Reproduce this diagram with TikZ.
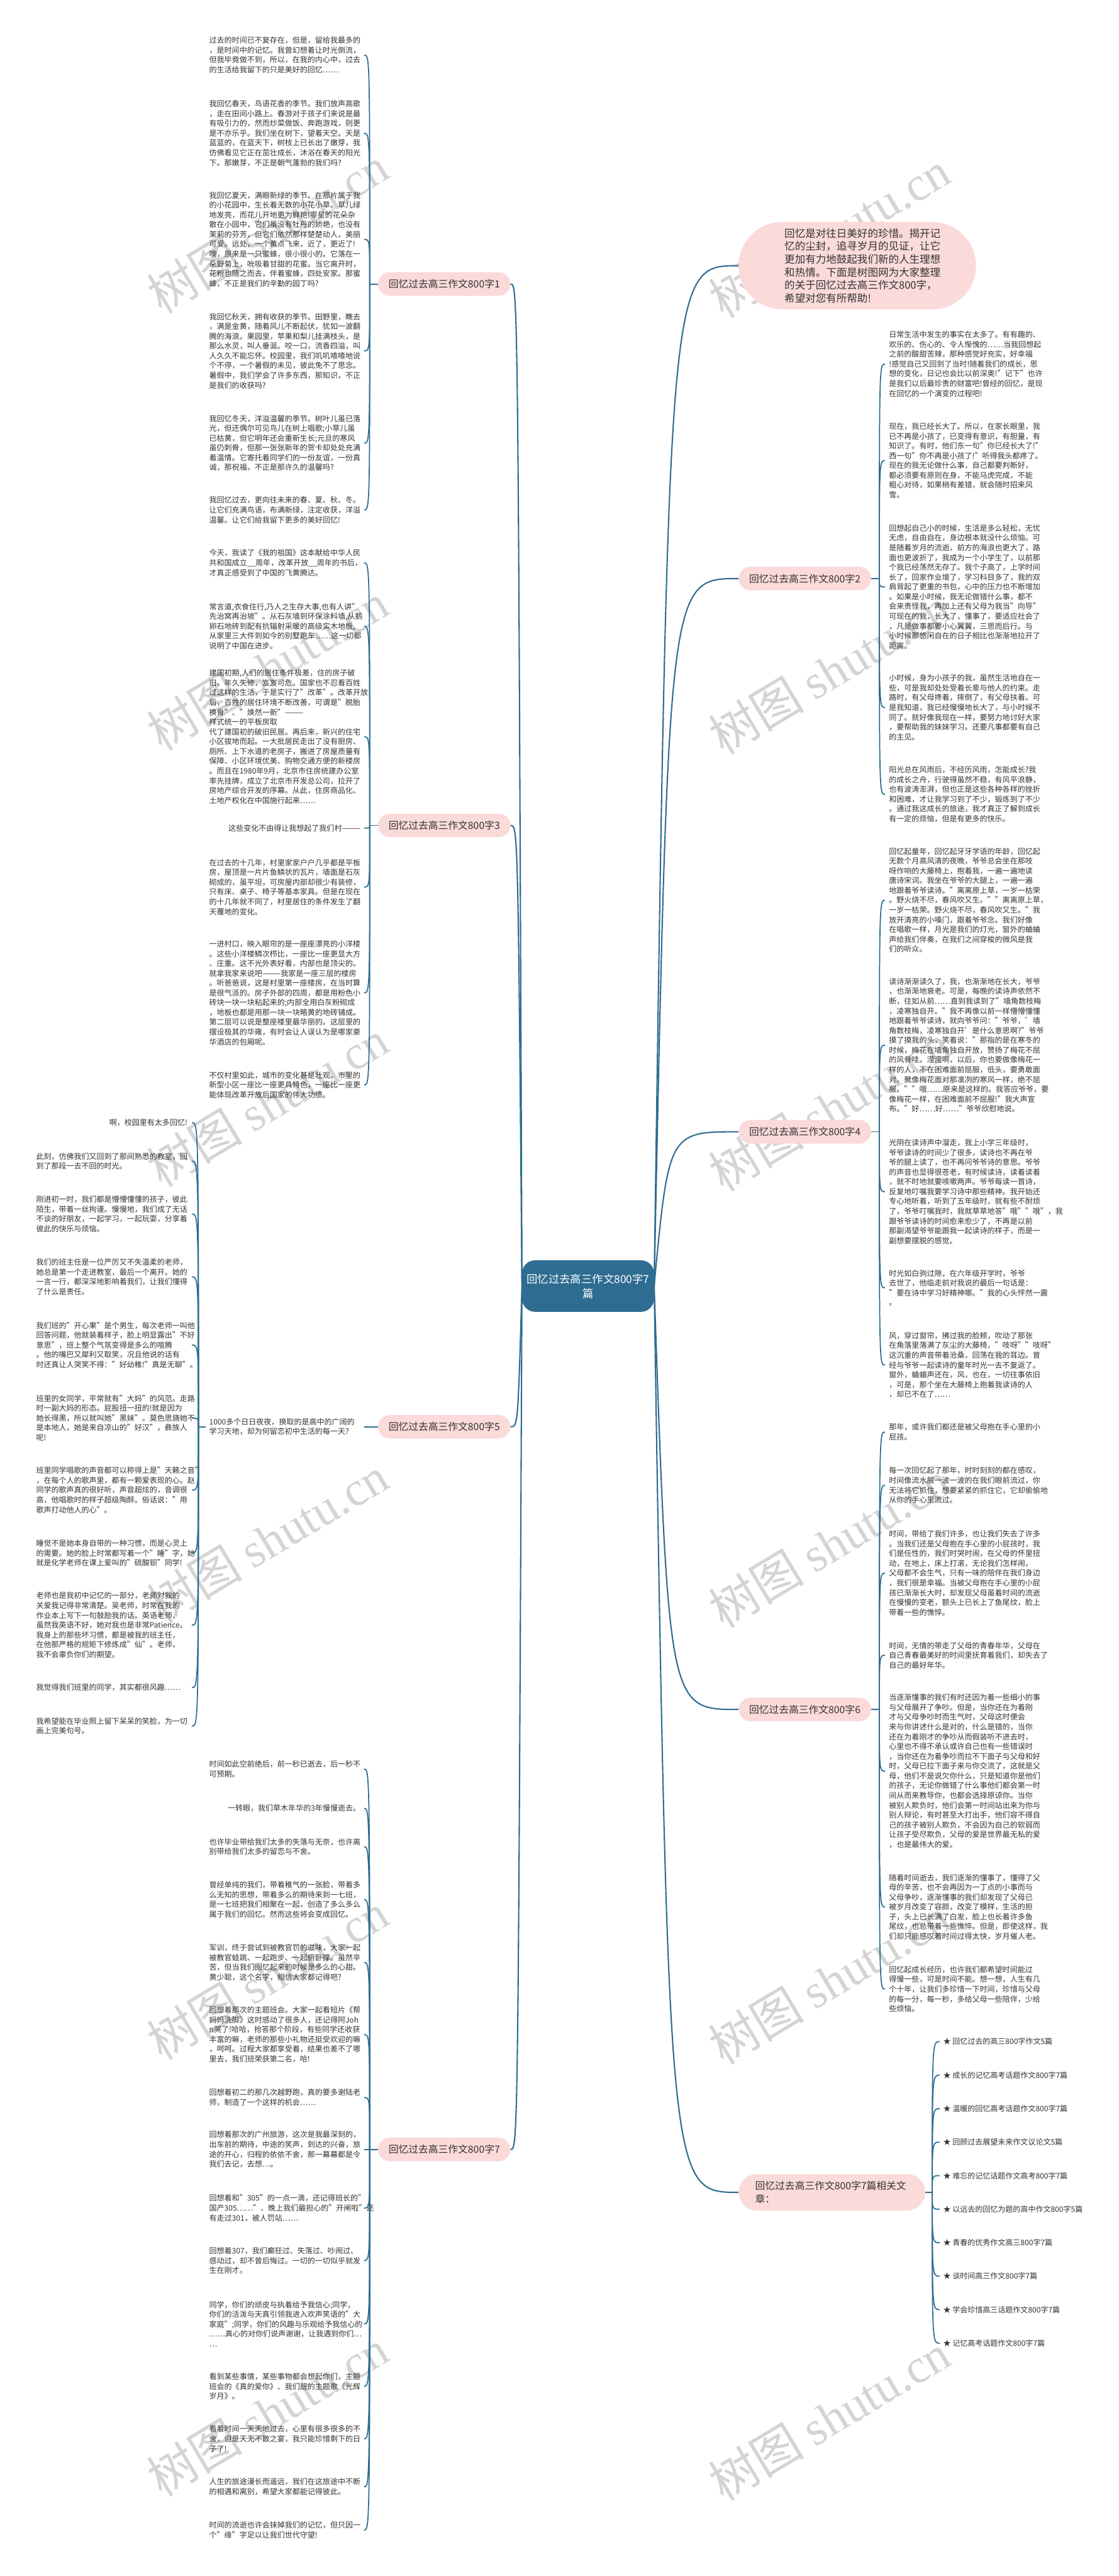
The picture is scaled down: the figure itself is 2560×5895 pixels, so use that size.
\documentclass[tikz,border=0pt]{standalone}
\usepackage{fontspec}
\setmainfont{Noto Sans CJK SC}
\newfontfamily\wmserif{Liberation Serif}
\usetikzlibrary{positioning}
\definecolor{twigblue}{HTML}{2E6C91}
\definecolor{petal}{HTML}{FBDADA}
\definecolor{ink}{HTML}{333333}
\definecolor{wmgrey}{HTML}{D4D4D4}
\newcommand\leaffont{\fontsize{17.3}{22.4}\selectfont}
\newcommand\topicfont{\fontsize{22.7}{30}\selectfont}
\newcommand\introfont{\fontsize{23.8}{29.6}\selectfont}
\newcommand\rootfont{\fontsize{25}{33}\selectfont}

\begin{document}
\begin{tikzpicture}[x=1pt,y=-1pt,
  leafL/.style={anchor=east,text width=346pt,align=left,inner xsep=8pt,inner ysep=0pt,font=\leaffont,text=ink},
  leafR/.style={leafL,anchor=west,inner xsep=9pt},
  topic/.style={fill=petal,rounded corners=27pt,minimum width=303pt,minimum height=54pt,inner sep=0pt,font=\topicfont,text=ink},
  relitem/.style={anchor=west,inner xsep=8pt,inner ysep=0pt,font=\leaffont,text=ink},
  twig/.style={draw=twigblue,line width=2.5pt},
  trunk/.style={draw=twigblue,line width=3pt},
  wmark/.style={rotate=31,anchor=base west,inner sep=0pt,text=wmgrey,font=\fontsize{110}{110}\selectfont}]

\useasboundingbox (0,0) rectangle (2560,5895);
\fill[white] (0,0) rectangle (2560,5895);

% watermark
\foreach \k in {0,...,5}{
  \node[wmark] (wl\k) at (370,{721+999*\k}) {树图 {\wmserif shutu.cn}};
  \node[wmark] (wr\k) at (1655,{731+999*\k}) {树图 {\wmserif shutu.cn}};
}

% root
\node[fill=twigblue,rounded corners=30pt,minimum width=301pt,minimum height=118pt,text width=282pt,align=center,inner xsep=10pt,font=\rootfont,text=white] (centre) at (1345.5,2943) {回忆过去高三作文800字7\\篇};

% topics
\node[topic] (b1) at (1016.5,650) {回忆过去高三作文800字1};
\node[topic] (b3) at (1016.5,1889) {回忆过去高三作文800字3};
\node[topic] (b5) at (1016.5,3265) {回忆过去高三作文800字5};
\node[topic] (b7) at (1016.5,4919) {回忆过去高三作文800字7};
\node[topic,rounded corners=100pt,minimum width=543pt,minimum height=200pt,text width=333pt,align=left,font=\introfont] (intro) at (1961.5,608) {回忆是对往日美好的珍惜。揭开记\\忆的尘封，追寻岁月的见证，让它\\更加有力地鼓起我们新的人生理想\\和热情。下面是树图网为大家整理\\的关于回忆过去高三作文800字，\\希望对您有所帮助!};
\node[topic] (b2) at (1841.5,1324) {回忆过去高三作文800字2};
\node[topic] (b4) at (1841.5,2590) {回忆过去高三作文800字4};
\node[topic] (b6) at (1841.5,3912) {回忆过去高三作文800字6};
\node[topic,minimum width=427pt,minimum height=83pt,rounded corners=41pt,text width=351pt,align=left,inner xsep=38pt] (rel) at (1903.5,5017) {回忆过去高三作文800字7篇相关文\\章：};

% essay 1
\node[leafL] (l1a) at (833,126) {过去的时间已不复存在，但是，留给我最多的\\，是时间中的记忆。我曾幻想着让时光倒流，\\但我毕竟做不到，所以，在我的内心中，过去\\的生活给我留下的只是美好的回忆……};
\node[leafL] (l1b) at (833,305) {我回忆春天，鸟语花香的季节。我们放声高歌\\，走在田间小路上。春游对于孩子们来说是最\\有吸引力的，然而炒菜做饭、奔跑游戏，则更\\是不亦乐乎。我们坐在树下，望着天空。天是\\蓝蓝的，在蓝天下，树枝上已长出了嫩芽，我\\仿佛看见它正在茁壮成长，沐浴在春天的阳光\\下。那嫩芽，不正是朝气蓬勃的我们吗?};
\node[leafL] (l1c) at (833,548) {我回忆夏天，满眼新绿的季节。在那片属于我\\的小花园中，生长着无数的小花小草。草儿绿\\地发亮，而花儿开地更为鲜艳!零星的花朵杂\\散在小园中，它们虽没有牡丹的娇艳，也没有\\茉莉的芬芳，但它们依然那样楚楚动人，美丽\\可爱。远处，一个黄点飞来，近了，更近了!\\噢，原来是一只蜜蜂，很小很小的。它落在一\\朵野菊上，吮吸着甘甜的花蜜。当它离开时，\\花粉也随之而去，伴着蜜蜂，四处安家。那蜜\\蜂，不正是我们的辛勤的园丁吗?};
\node[leafL] (l1d) at (833,803) {我回忆秋天，拥有收获的季节。田野里，瞧去\\，满是金黄，随着风儿不断起伏，犹如一波翻\\腾的海浪。果园里，苹果和梨儿挂满枝头，是\\那么水灵，叫人垂涎。咬一口，流香四溢，叫\\人久久不能忘怀。校园里，我们叽叽喳喳地说\\个不停，一个暑假的未见，彼此免不了思念。\\暑假中，我们学会了许多东西，那知识，不正\\是我们的收获吗?};
\node[leafL] (l1e) at (833,1014) {我回忆冬天，洋溢温馨的季节。树叶儿虽已落\\光，但还偶尔可见鸟儿在树上唱歌;小草儿虽\\已枯黄，但它明年还会重新生长;元旦的寒风\\虽仍刺骨，但那一张张新年的贺卡却处处充满\\着温情。它寄托着同学们的一份友谊，一份真\\诚，那祝福，不正是那许久的温馨吗?};
\node[leafL] (l1f) at (833,1167) {我回忆过去，更向往未来的春、夏、秋、冬。\\让它们充满鸟语，布满新绿，注定收获，洋溢\\温馨。让它们给我留下更多的美好回忆!};

% essay 3
\node[leafL] (l3a) at (833,1288) {今天，我读了《我的祖国》这本献给中华人民\\共和国成立\_\_周年，改革开放\_\_周年的书后，\\才真正感受到了中国的飞黄腾达。};
\node[leafL] (l3b) at (833,1433) {常言道,衣食住行,乃人之生存大事,也有人讲"\\先治窝再治坡"。从石灰墙到环保涂料墙,从鹅\\卵石地砖到配有抗辐射采暖的高级实木地板,\\从家里三大件到如今的别墅跑车……这一切都\\说明了中国在进步。};
\node[leafL] (l3c) at (833,1686) {建国初期,人们的居住条件极差，住的房子破\\旧，年久失修，岌岌可危。国家也不忍看百姓\\过这样的生活，于是实行了"改革"。改革开放\\后，百姓的居住环境不断改善，可谓是"脱胎\\换骨"、"焕然一新"———样式统一的平板房取\\代了建国初的破旧民居。再后来，新兴的住宅\\小区拔地而起。一大批居民走出了没有厨房、\\厕所、上下水道的老房子，搬进了房屋质量有\\保障、小区环境优美、购物交通方便的新楼房\\。而且在1980年9月，北京市住房统建办公室\\率先挂牌，成立了北京市开发总公司，拉开了\\房地产综合开发的序幕。从此，住房商品化、\\土地产权化在中国施行起来……};
\node[leafL,align=right] (l3d) at (833,1895) {这些变化不由得让我想起了我们村———};
\node[leafL] (l3e) at (833,2030) {在过去的十几年，村里家家户户几乎都是平板\\房，屋顶是一片片鱼鳞状的瓦片，墙面是石灰\\砌成的，虽平坦，可房屋内部却很少有装修，\\只有床、桌子、椅子等基本家具。但是在现在\\的十几年就不同了，村里居住的条件发生了翻\\天覆地的变化。};
\node[leafL] (l3f) at (833,2272) {一进村口，映入眼帘的是一座座漂亮的小洋楼\\。这些小洋楼鳞次栉比，一座比一座更显大方\\、庄重。这不光外表好看，内部也是顶尖的。\\就拿我家来说吧———我家是一座三层的楼房\\。听爸爸说，这是村里第一座楼房，在当时算\\是很气派的。房子外部的四周，都是用粉色小\\砖块一块一块粘起来的;内部全用白灰粉砌成\\，地板也都是用那一块一块略黄的地砖铺成。\\第二层可以说是整座楼里最华丽的。这层里的\\摆设极其的华雍，有时会让人误认为是哪家豪\\华酒店的包厢呢。};
\node[leafL] (l3g) at (833,2483) {不仅村里如此，城市的变化甚是壮观。市里的\\新型小区一座比一座更具特色，一座比一座更\\能体现改革开放后国家的伟大功绩。};

% essay 5
\node[leafL] (l5) at (833,3265) {1000多个日日夜夜，换取的是高中的广阔的\\学习天地，却为何留恋初中生活的每一天?};
\node[leafL,inner xsep=10pt,align=right] (s1) at (439,2569) {啊，校园里有太多回忆!};
\node[leafL,inner xsep=10pt] (s2) at (439,2657) {此刻，仿佛我们又回到了那间熟悉的教室，回\\到了那段一去不回的时光。};
\node[leafL,inner xsep=10pt] (s3) at (439,2778) {刚进初一时，我们都是懵懵懂懂的孩子，彼此\\陌生，带着一丝拘谨。慢慢地，我们成了无话\\不谈的好朋友，一起学习，一起玩耍，分享着\\彼此的快乐与烦恼。};
\node[leafL,inner xsep=10pt] (s4) at (439,2922) {我们的班主任是一位严厉又不失温柔的老师，\\她总是第一个走进教室，最后一个离开。她的\\一言一行，都深深地影响着我们，让我们懂得\\了什么是责任。};
\node[leafL,inner xsep=10pt] (s5) at (439,3078) {我们班的"开心果"是个男生，每次老师一叫他\\回答问题，他就装着样子，脸上明显露出"不好\\意思"，班上整个气氛变得是多么的喧腾\\。他的嘴巴又犀利又取笑，况且他说的话有\\时还真让人哭笑不得："好幼稚!"真是无聊"。};
\node[leafL,inner xsep=10pt] (s6) at (439,3245) {班里的女同学，平常就有"大妈"的风范。走路\\时一副大妈的形态。屁股扭一扭的!就是因为\\她长得黑，所以就叫她"黑妹"。莫色思旖她不\\是本地人，她是来自凉山的"好汉"，彝族人\\呢!};
\node[leafL,inner xsep=10pt] (s7) at (439,3410) {班里同学唱歌的声音都可以称得上是"天籁之音"\\，在每个人的歌声里，都有一颗爱表现的心。赵\\同学的歌声真的很好听，声音超炫的，音调很\\高，他唱歌时的样子超级陶醉。俗话说："用\\歌声打动他人的心"。};
\node[leafL,inner xsep=10pt] (s8) at (439,3554) {睡觉不是她本身自带的一种习惯，而是心灵上\\的需要。她的脸上时常都写着一个"睡"字，她\\就是化学老师在课上爱叫的"硫酸钡"同学!};
\node[leafL,inner xsep=10pt] (s9) at (439,3719) {老师也是我初中记忆的一部分，老师对我的\\关爱我记得非常清楚。吴老师，时常在我的\\作业本上写下一句鼓励我的话。英语老师，\\虽然我英语不好，她对我也是非常Patience。\\我身上的那些坏习惯，都是被我的班主任，\\在他那严格的规矩下修炼成"仙"。老师，\\我不会辜负你们的期望。};
\node[leafL,inner xsep=10pt] (s10) at (439,3862) {我觉得我们班里的同学，其实都很风趣……};
\node[leafL,inner xsep=10pt] (s11) at (439,3950) {我希望能在毕业照上留下呆呆的笑脸，为一切\\画上完美句号。};

% essay 7
\node[leafL] (l7a) at (833,4048) {时间如此空前绝后，前一秒已逝去，后一秒不\\可预期。};
\node[leafL,align=right] (l7b) at (833,4138) {一转眼，我们草木年华的3年慢慢逝去。};
\node[leafL] (l7c) at (833,4226) {也许毕业带给我们太多的失落与无奈，也许离\\别带给我们太多的留恋与不舍。};
\node[leafL] (l7d) at (833,4347) {曾经单纯的我们，带着稚气的一张脸，带着多\\么无知的思想，带着多么的期待来到一七班，\\是一七班把我们相聚在一起，创造了多么多么\\属于我们的回忆。然而这些将会变成回忆。};
\node[leafL] (l7e) at (833,4491) {军训，终于尝试到被教官罚的滋味，大家一起\\被教官蛙跳、一起跑步、一起俯卧撑。虽然辛\\苦，但当我们回忆起来的时候是多么的心甜。\\黄少聪，这个名字，相信大家都记得吧?};
\node[leafL] (l7f) at (833,4656) {回想着那次的主题班会。大家一起看短片《帮\\妈妈洗脚》这时感动了很多人，还记得阿Joh\\n哭了!哈哈，抢答那个阶段，有些同学还收获\\丰富的嘛，老师的那些小礼物还挺受欢迎的嘛\\，呵呵。过程大家都享受着，结果也差不了哪\\里去，我们班荣获第二名，哈!};
\node[leafL] (l7g) at (833,4800) {回想着初二的那几次越野跑，真的要多谢陆老\\师，制造了一个这样的机会……};
\node[leafL] (l7h) at (833,4919) {回想着那次的广州旅游，这次是我最深刻的，\\出车前的期待，中途的笑声，到达的兴奋，旅\\途的开心，归程的依依不舍，那一幕幕都是令\\我们去记，去想…。};
\node[leafL] (l7i) at (833,5053) {回想着和"305"的一点一滴，还记得班长的"\\国产305……"、晚上我们最担心的"开闸啦"还\\有走过301，被人罚站……};
\node[leafL] (l7j) at (833,5173) {回想着307，我们癫狂过、失落过、吵闹过、\\感动过，却不曾后悔过。一切的一切似乎就发\\生在刚才。};
\node[leafL] (l7k) at (833,5318) {同学，你们的顽皮与执着给予我信心;同学，\\你们的活泼与天真引领我进入欢声笑语的"大\\家庭";同学，你们的风趣与乐观给予我信心的\\……真心的对你们说声谢谢，让我遇到你们…\\…};
\node[leafL] (l7l) at (833,5461) {看到某些事情，某些事物都会想起你们，主题\\班会的《真的爱你》、我们班的主题歌《光辉\\岁月》。};
\node[leafL] (l7m) at (833,5581) {看着时间一天天地过去，心里有很多很多的不\\舍，但是天无不散之宴，我只能珍惜剩下的日\\子了!};
\node[leafL] (l7n) at (833,5691) {人生的旅途漫长而遥远，我们在这旅途中不断\\的相遇和离别，希望大家都能记得彼此。};
\node[leafL] (l7o) at (833,5790) {时间的流逝也许会抹掉我们的记忆，但只因一\\个"缘"字足以让我们世代守望!};

% essay 2
\node[leafR] (r2a) at (2025,833) {日常生活中发生的事实在太多了。有有趣的、\\欢乐的、伤心的、令人惭愧的……当我回想起\\之前的酸甜苦辣，那种感觉好充实，好幸福\\!感觉自己又回到了当时!随着我们的成长，思\\想的变化，日记也会比以前深奥!"记下"也许\\是我们以后最珍贵的财富吧!曾经的回忆，是现\\在回忆的一个演变的过程吧!};
\node[leafR] (r2b) at (2025,1054) {现在，我已经长大了。所以，在家长眼里，我\\已不再是小孩了，已变得有意识，有胆量，有\\知识了。有时，他们东一句"你已经长大了!"\\西一句"你不再是小孩了!"听得我头都疼了。\\现在的我无论做什么事，自己都要判断好，\\都必须要有原则在身，不能马虎完成，不能\\粗心对待，如果稍有差错，就会随时招来风\\雪。};
\node[leafR] (r2c) at (2025,1343) {回想起自己小的时候，生活是多么轻松，无忧\\无虑，自由自在，身边根本就没什么烦恼。可\\是随着岁月的流逝，前方的海浪也更大了，路\\面也更波折了，我成为一个小学生了，以前那\\个我已经荡然无存了。我个子高了，上学时间\\长了，回家作业增了，学习科目多了，我的双\\肩背起了更重的书包，心中的压力也不断增加\\。如果是小时候，我无论做错什么事，都不\\会来责怪我，再加上还有父母为我当"向导"\\可现在的我，长大了，懂事了，要适应社会了\\，凡是做事都要小心翼翼，三思而后行。与\\小时候那悠闲自在的日子相比也渐渐地拉开了\\距离。};
\node[leafR] (r2d) at (2025,1619) {小时候，身为小孩子的我，虽然生活地自在一\\些，可是我却处处受着长辈与他人的约束。走\\路时，有父母搀着，摔倒了，有父母扶着。可\\是我知道，我已经慢慢地长大了，与小时候不\\同了。就好像我现在一样，要努力地讨好大家\\，要帮助我的妹妹学习。还要凡事都要有自己\\的主见。};
\node[leafR] (r2e) at (2025,1818) {阳光总在风雨后，不经历风雨，怎能成长?我\\的成长之舟，行驶得虽然不稳，有风平浪静，\\也有波涛澎湃，但也正是这些各种各样的挫折\\和困难，才让我学习到了不少，锻炼到了不少\\。通过我这成长的旅途，我才真正了解到成长\\有一定的烦恼，但是有更多的快乐。};

% essay 4
\node[leafR] (r4a) at (2025,2060) {回忆起童年，回忆起牙牙学语的年龄，回忆起\\无数个月高风清的夜晚，爷爷总会坐在那吱\\呀作响的大藤椅上，抱着我，一遍一遍地读\\唐诗宋词。我坐在爷爷的大腿上，一遍一遍\\地跟着爷爷读诗。"离离原上草，一岁一枯荣\\。野火烧不尽，春风吹又生。""离离原上草，\\一岁一枯荣。野火烧不尽，春风吹又生。"我\\放开清亮的小嗓门，跟着爷爷念。我们好像\\在唱歌一样，月光是我们的灯光，窗外的蛐蛐\\声给我们伴奏，在我们之间穿梭的微风是我\\们的听众。};
\node[leafR] (r4b) at (2025,2392) {读诗渐渐读久了，我，也渐渐地在长大，爷爷\\，也渐渐地衰老。可是，每晚的读诗声依然不\\断，往如从前……直到我读到了"墙角数枝梅\\，凌寒独自开。"我不再像以前一样懵懵懂懂\\地跟着爷爷读诗，就向爷爷问："爷爷，'墙\\角数枝梅，凌寒独自开'是什么意思啊?"爷爷\\摸了摸我的头，笑着说："那指的是在寒冬的\\时候，梅花在墙角独自开放，赞扬了梅花不屈\\的风骨哇。滢滢啊，以后，你也要做像梅花一\\样的人，不在困难面前屈服，低头，要勇敢面\\对。就像梅花面对那凛冽的寒风一样，绝不屈\\服。""哦……原来是这样的。我答应爷爷，要\\像梅花一样，在困难面前不屈服!"我大声宣\\布。"好……好……"爷爷欣慰地说。};
\node[leafR] (r4c) at (2025,2727) {光阴在读诗声中溜走，我上小学三年级时，\\爷爷读诗的时间少了很多，读诗也不再在爷\\爷的腿上读了，也不再问爷爷诗的意思。爷爷\\的声音也显得很苍老，有时候读诗，读着读着\\，就不时地就要咳嗽两声。爷爷每读一首诗，\\反复地叮嘱我要学习诗中那些精神。我开始还\\专心地听着，听到了五年级时，就有些不耐烦\\了，爷爷叮嘱我时，我就草草地答"哦""哦"，我\\跟爷爷读诗的时间愈来愈少了，不再是以前\\那副渴望爷爷能跟我一起读诗的样子，而是一\\副想要摆脱的感觉。};
\node[leafR] (r4d) at (2025,2947) {时光如白驹过隙，在六年级开学时，爷爷\\去世了，他临走前对我说的最后一句话是：\\"要在诗中学习好精神哪。"我的心头怦然一震\\。};
\node[leafR] (r4e) at (2025,3124) {风，穿过窗帘，拂过我的脸颊，吹动了那张\\在角落里落满了灰尘的大藤椅，"吱呀""吱呀"\\这沉重的声音带着沧桑，回荡在我的耳边。曾\\经与爷爷一起读诗的童年时光一去不复返了。\\窗外，蛐蛐声还在，风，也在，一切往事依旧\\，可是，那个坐在大藤椅上抱着我读诗的人\\，却已不在了……};

% essay 6
\node[leafR] (r6a) at (2025,3277) {那年，或许我们都还是被父母抱在手心里的小\\屁孩。};
\node[leafR] (r6b) at (2025,3399) {每一次回忆起了那年，时时刻刻的都在感叹，\\时间像流水般一波一波的在我们眼前流过，你\\无法将它抓住，想要紧紧的抓住它，它却偷偷地\\从你的手心里流过。};
\node[leafR] (r6c) at (2025,3600) {时间，带给了我们许多，也让我们失去了许多\\。当我们还是父母抱在手心里的小屁孩时，我\\们是任性的，我们时哭时闹，在父母的怀里扭\\动，在地上，床上打滚，无论我们怎样闹，\\父母都不会生气，只有一味的陪伴在我们身边\\，我们很是幸福。当被父母抱在手心里的小屁\\孩已渐渐长大时，却发现父母虽着时间的流逝\\在慢慢的变老，额头上已长上了鱼尾纹，脸上\\带着一些的憔悴。};
\node[leafR] (r6d) at (2025,3788) {时间，无情的带走了父母的青春年华，父母在\\自己青春最美好的时间里抚育着我们，却失去了\\自己的最好年华。};
\node[leafR] (r6e) at (2025,4053) {当逐渐懂事的我们有时还因为着一些细小的事\\与父母展开了争吵。但是，当你还在为着刚\\才与父母争吵时而生气时，父母这时便会\\来与你讲述什么是对的，什么是错的，当你\\还在为着刚才的争吵从而假装听不进去时，\\心里也不得不承认或许自己也有一些错误时\\，当你还在为着争吵而拉不下面子与父母和好\\时，父母已拉下面子来与你交流了，这就是父\\母，他们不是说欠你什么，只是知道你是他们\\的孩子，无论你做错了什么事他们都会第一时\\间从而来教导你，也都会选择原谅你。当你\\被别人欺负时，他们会第一时间站出来为你与\\别人辩论，有时甚至大打出手，他们容不得自\\己的孩子被别人欺负，不会因为自己的软弱而\\让孩子受尽欺负，父母的爱是世界最无私的爱\\，也是最伟大的爱。};
\node[leafR] (r6f) at (2025,4364) {随着时间逝去，我们逐渐的懂事了，懂得了父\\母的辛苦，也不会再因为一丁点的小事而与\\父母争吵，逐渐懂事的我们却发现了父母已\\被岁月改变了容颜，改变了模样，生活的担\\子，头上已长满了白发，脸上也长着许多鱼\\尾纹，也总带着一些憔悴。但是，即使这样，我\\们却只能感叹着时间过得太快，岁月催人老。};
\node[leafR] (r6g) at (2025,4552) {回忆起成长经历，也许我们都希望时间能过\\得慢一些，可是时间不能。想一想，人生有几\\个十年，让我们多珍惜一下时间，珍惜与父母\\的每一分，每一秒，多给父母一些陪伴，少给\\些烦恼。};

% related articles
\foreach \t [count=\i] in {回忆过去的高三800字作文5篇,成长的记忆高考话题作文800字7篇,温暖的回忆高考话题作文800字7篇,回顾过去展望未来作文议论文5篇,难忘的记忆话题作文高考800字7篇,以远去的回忆为题的高中作文800字5篇,青春的优秀作文高三800字7篇,谈时间高三作文800字7篇,学会珍惜高三话题作文800字7篇,记忆高考话题作文800字7篇}
  \node[relitem] (i\i) at (2150,{4672+76.7*(\i-1)}) {★ \t};

% junctions
\coordinate (j1) at (846,650);
\coordinate (j3) at (846,1889);
\coordinate (j5) at (454,3265);
\coordinate (j7) at (846,4919);
\coordinate (j2) at (2012,1324);
\coordinate (j4) at (2012,2590);
\coordinate (j6) at (2012,3912);
\coordinate (jr) at (2133,5017);
\coordinate (cl) at (1185,2943);
\coordinate (cr) at (1530,2943);

% root connectors
\foreach \n in {b1,b3,b5,b7}
  \draw[trunk] (centre.west) .. controls (cl |- \n.east) .. (\n.east);
\foreach \n in {intro,b2,b4,b6,rel}
  \draw[trunk] (centre.east) .. controls (cr |- \n.west) and (cr |- \n.west) .. (\n.west);

% topic connectors
\draw[twig] (b1.west) -- (j1);
\foreach \n in {l1a,l1b,l1c,l1d,l1e,l1f}
  \draw[twig] (j1) .. controls (j1 |- \n.east) .. (\n.east);
\draw[twig] (b3.west) -- (j3);
\foreach \n in {l3a,l3b,l3c,l3d,l3e,l3f,l3g}
  \draw[twig] (j3) .. controls (j3 |- \n.east) .. (\n.east);
\draw[twig] (b5.west) -- (l5.east);
\draw[twig] (l5.west) -- (j5);
\foreach \n in {s1,s2,s3,s4,s5,s6,s7,s8,s9,s10,s11}
  \draw[twig] (j5) .. controls (j5 |- \n.east) .. (\n.east);
\draw[twig] (b7.west) -- (j7);
\foreach \n in {l7a,l7b,l7c,l7d,l7e,l7f,l7g,l7h,l7i,l7j,l7k,l7l,l7m,l7n,l7o}
  \draw[twig] (j7) .. controls (j7 |- \n.east) .. (\n.east);
\draw[twig] (b2.east) -- (j2);
\foreach \n in {r2a,r2b,r2c,r2d,r2e}
  \draw[twig] (j2) .. controls (j2 |- \n.west) .. (\n.west);
\draw[twig] (b4.east) -- (j4);
\foreach \n in {r4a,r4b,r4c,r4d,r4e}
  \draw[twig] (j4) .. controls (j4 |- \n.west) .. (\n.west);
\draw[twig] (b6.east) -- (j6);
\foreach \n in {r6a,r6b,r6c,r6d,r6e,r6f,r6g}
  \draw[twig] (j6) .. controls (j6 |- \n.west) .. (\n.west);
\draw[twig] (rel.east) -- (jr);
\foreach \i in {1,...,10}
  \draw[twig] (jr) .. controls (jr |- i\i.west) .. (i\i.west);
\end{tikzpicture}
\end{document}
